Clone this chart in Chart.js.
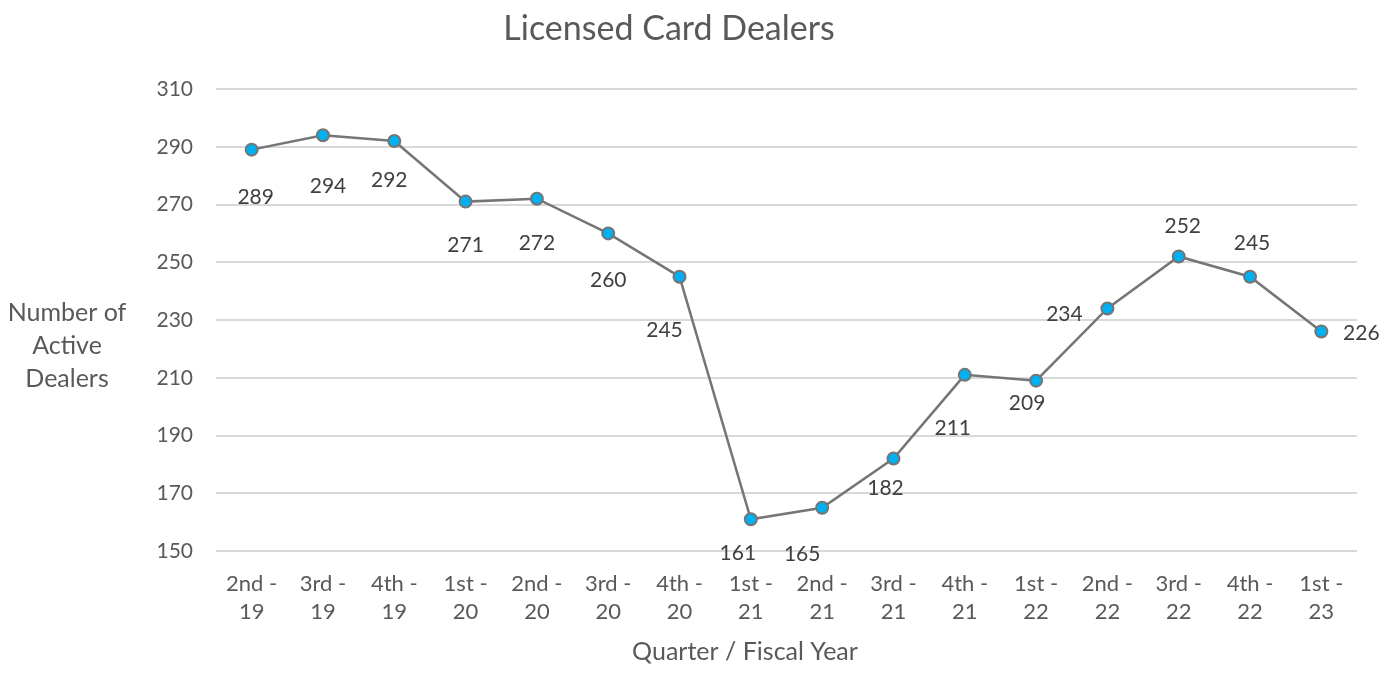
<!DOCTYPE html>
<html>
<head>
<meta charset="utf-8">
<script src="https://cdn.jsdelivr.net/npm/chart.js@4.4.0/dist/chart.umd.min.js"></script>
<style>
    html, body { margin: 0; padding: 0; background: #ffffff; }
    #wrap { width: 1397px; height: 679px; }
</style>
</head>
<body>
<div id="wrap"><canvas id="chartDealers" width="1397" height="679"></canvas></div>
<script>
// dati
const trimestri = [
    ['2nd -', '19'], ['3rd -', '19'], ['4th -', '19'],
    ['1st -', '20'], ['2nd -', '20'], ['3rd -', '20'], ['4th -', '20'],
    ['1st -', '21'], ['2nd -', '21'], ['3rd -', '21'], ['4th -', '21'],
    ['1st -', '22'], ['2nd -', '22'], ['3rd -', '22'], ['4th -', '22'],
    ['1st -', '23']
]
const dealerAttivi = [289, 294, 292, 271, 272, 260, 245, 161, 165, 182, 211, 209, 234, 252, 245, 226]
const yMin = 150
const yMax = 310
const yStep = 20

const titolo = 'Licensed Card Dealers'
const titoloX = 'Quarter / Fiscal Year'
const titoloY = ['Number of', 'Active', 'Dealers']

// spostamento etichette rispetto al punto (come nel grafico excel)
const spostamentiEtichette = [
    [4, 48], [5, 51], [-5, 39], [0, 44], [0, 45], [0, 47], [-15, 54],
    [-13, 34], [-20, 47], [-8, 30], [-12, 53], [-9, 23], [-43, 6],
    [4, -30], [2, -33], [40, 2]
]

const FONT = 'Lato, "Open Sans", sans-serif'
const grigioTesto = '#595959'

const etichettePlugin = {
    id: 'etichette',
    afterDatasetsDraw(chart) {
        const ctx = chart.ctx
        const meta = chart.getDatasetMeta(0)
        ctx.save()
        ctx.font = '21px ' + FONT
        ctx.fillStyle = '#404040'
        ctx.textAlign = 'center'
        ctx.textBaseline = 'middle'
        meta.data.forEach((p, i) => {
            const [dx, dy] = spostamentiEtichette[i]
            ctx.fillText(String(dealerAttivi[i]), p.x + dx, p.y + dy)
        })
        ctx.restore()
    }
}

// titoli disegnati a mano (posizioni come nel grafico excel)
const titoliPlugin = {
    id: 'titoli',
    afterDraw(chart) {
        const ctx = chart.ctx
        const area = chart.chartArea
        ctx.save()
        ctx.fillStyle = grigioTesto
        ctx.textAlign = 'center'
        ctx.textBaseline = 'middle'

        ctx.font = '34px ' + FONT
        ctx.fillText(titolo, 669, 29)

        ctx.font = '25px ' + FONT
        ctx.fillText(titoloX, 745, 652)

        const centroY = (area.top + area.bottom) / 2 + 26
        titoloY.forEach((riga, i) => {
            ctx.fillText(riga, 67, centroY + (i - 1) * 33)
        })
        ctx.restore()
    }
}

new Chart(document.getElementById('chartDealers'), {
    type: 'line',
    data: {
        labels: trimestri,
        datasets: [{
            data: dealerAttivi,
            borderColor: '#757575',
            borderWidth: 2.5,
            pointBackgroundColor: '#00b0f0',
            pointBorderColor: '#757575',
            pointBorderWidth: 2,
            pointRadius: 6,
            tension: 0
        }]
    },
    options: {
        responsive: false,
        animation: false,
        layout: { padding: { left: 0, right: 40, top: 89, bottom: 0 } },
        plugins: {
            legend: { display: false },
            tooltip: { enabled: false },
            title: { display: false }
        },
        scales: {
            x: {
                offset: true,
                grid: { display: false, drawTicks: false },
                border: { display: false },
                ticks: {
                    color: grigioTesto,
                    padding: 19,
                    maxRotation: 0,
                    autoSkip: false,
                    font: { family: FONT, size: 22, lineHeight: 1.27 }
                },
                afterFit(scale) { scale.height = 128 }
            },
            y: {
                min: yMin,
                max: yMax,
                grid: { color: '#d9d9d9', lineWidth: 2, drawTicks: false },
                border: { display: false },
                ticks: {
                    stepSize: yStep,
                    color: grigioTesto,
                    padding: 23,
                    font: { family: FONT, size: 21 }
                },
                afterFit(scale) { scale.width = 216 }
            }
        }
    },
    plugins: [etichettePlugin, titoliPlugin]
})
</script>
</body>
</html>
